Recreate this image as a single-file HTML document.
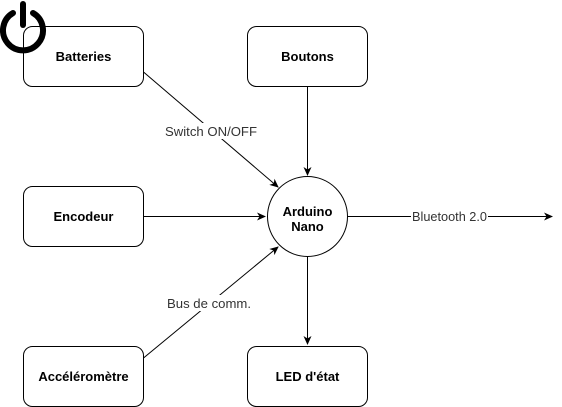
<!DOCTYPE html>
<html><head><meta charset="utf-8"><style>
html,body{margin:0;padding:0;background:#fff;}
svg{display:block;}
text{font-family:"Liberation Sans",sans-serif;}
</style></head><body>
<svg width="562" height="407" viewBox="0 0 562 407" xmlns="http://www.w3.org/2000/svg">
<defs><marker id="a" markerWidth="10" markerHeight="10" refX="8" refY="5" orient="auto" markerUnits="userSpaceOnUse"><path d="M0,1 L9,5 L0,9 L2.5,5 Z" fill="#000"/></marker></defs>
<g fill="#fff" stroke="#000" stroke-width="1">
<rect x="23.5" y="26.5" width="120" height="60" rx="9"/>
<rect x="247.5" y="26.5" width="120" height="60" rx="9"/>
<rect x="23.5" y="186.5" width="120" height="60" rx="9"/>
<rect x="23.5" y="346.5" width="120" height="60" rx="9"/>
<rect x="247.5" y="346.5" width="120" height="60" rx="9"/>
<circle cx="307.5" cy="216.5" r="40"/>
</g>
<g stroke="#000" stroke-width="1" fill="none">
<line x1="143.5" y1="72" x2="278" y2="187" marker-end="url(#a)"/>
<line x1="307.5" y1="86.5" x2="307.5" y2="175" marker-end="url(#a)"/>
<line x1="143.5" y1="216.5" x2="265" y2="216.5" marker-end="url(#a)"/>
<line x1="143.5" y1="358" x2="278" y2="247" marker-end="url(#a)"/>
<line x1="307.5" y1="256.5" x2="307.5" y2="344" marker-end="url(#a)"/>
<line x1="347.5" y1="216.5" x2="552" y2="216.5" marker-end="url(#a)"/>
</g>
<rect x="164" y="123" width="95" height="16" fill="#fff"/>
<rect x="166" y="295" width="86" height="16" fill="#fff"/>
<rect x="411" y="209" width="77" height="16" fill="#fff"/>
<g font-size="13" fill="#333" text-anchor="middle">
<text x="211" y="136" textLength="92" lengthAdjust="spacingAndGlyphs">Switch ON/OFF</text>
<text x="209" y="308" textLength="84" lengthAdjust="spacingAndGlyphs">Bus de comm.</text>
<text x="449.5" y="221" textLength="75" lengthAdjust="spacingAndGlyphs">Bluetooth 2.0</text>
</g>
<g font-size="13" font-weight="bold" fill="#000" text-anchor="middle">
<text x="83.5" y="61">Batteries</text>
<text x="307.5" y="61">Boutons</text>
<text x="83.5" y="221">Encodeur</text>
<text x="83.5" y="381">Accéléromètre</text>
<text x="307.5" y="381">LED d'état</text>
<text x="307.5" y="216">Arduino</text>
<text x="307.5" y="231">Nano</text>
</g>
<g stroke="#000" stroke-width="6" fill="none" stroke-linecap="round">
<path d="M33,13 A20,20 0 1 1 13,13"/>
<line x1="23" y1="4" x2="23" y2="25"/>
</g>
</svg>
</body></html>
